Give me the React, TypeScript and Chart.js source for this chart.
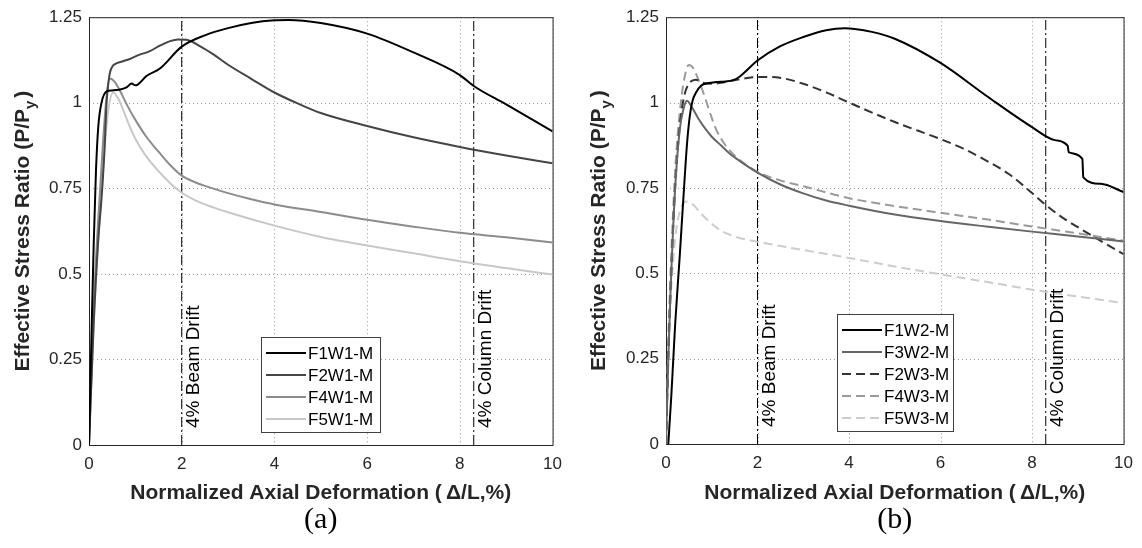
import React, { useEffect, useRef } from "react";
import { Chart, registerables } from "chart.js";

Chart.register(...registerables);

// ---------- axis ticks ----------
const xTickValues = [0, 2, 4, 6, 8, 10];
const xTickLabels = ["0", "2", "4", "6", "8", "10"];
const yTickValues = [0, 0.25, 0.5, 0.75, 1, 1.25];
const yTickLabels = ["0", "0.25", "0.5", "0.75", "1", "1.25"];

const xTitle = "Normalized Axial Deformation (\u2009\u0394/L,%)";
const yTitleMain = "Effective Stress Ratio (P/P";
const yTitleSub = "y";
const yTitleEnd = ")";

const beamDriftX = 2;
const columnDriftX = 8.3;
const beamDriftLabel = "4% Beam Drift";
const columnDriftLabel = "4% Column Drift";

// ---------- panel (a) ----------
const F1W1x = [0, 0.05, 0.1, 0.15, 0.2, 0.27, 0.38, 0.5, 0.65, 0.81, 0.92, 1.0, 1.05, 1.24, 1.53, 2.0, 2.5, 3.0, 3.5, 4.0, 4.3, 5.0, 6.0, 7.0, 8.0, 8.3, 9.0, 10.0];
const F1W1y = [0, 0.3, 0.58, 0.8, 0.93, 1.0, 1.033, 1.036, 1.038, 1.045, 1.056, 1.051, 1.053, 1.078, 1.1, 1.164, 1.197, 1.218, 1.233, 1.241, 1.242, 1.233, 1.202, 1.147, 1.081, 1.049, 0.995, 0.916];

const F2W1x = [0, 0.1, 0.2, 0.27, 0.33, 0.38, 0.44, 0.5, 0.56, 0.7, 0.88, 1.08, 1.3, 1.53, 1.75, 1.92, 2.1, 2.4, 2.7, 3.0, 3.5, 4.0, 4.5, 5.0, 6.0, 7.0, 8.0, 9.0, 10.0];
const F2W1y = [0, 0.35, 0.6, 0.72, 0.85, 1.0, 1.08, 1.105, 1.113, 1.12, 1.128, 1.14, 1.15, 1.167, 1.18, 1.185, 1.184, 1.165, 1.14, 1.111, 1.07, 1.03, 0.998, 0.97, 0.932, 0.899, 0.871, 0.846, 0.823];

const F4W1x = [0, 0.1, 0.2, 0.3, 0.38, 0.45, 0.55, 0.65, 0.81, 1.0, 1.24, 1.5, 1.75, 2.0, 2.25, 2.5, 3.0, 3.5, 4.0, 5.0, 6.0, 7.0, 8.0, 9.0, 10.0];
const F4W1y = [0, 0.4, 0.66, 0.88, 1.02, 1.071, 1.062, 1.04, 0.996, 0.95, 0.9, 0.857, 0.818, 0.787, 0.77, 0.757, 0.736, 0.718, 0.703, 0.681, 0.658, 0.638, 0.62, 0.607, 0.592];

const F5W1x = [0, 0.1, 0.2, 0.3, 0.4, 0.52, 0.62, 0.72, 0.85, 1.0, 1.2, 1.5, 1.75, 2.0, 2.25, 2.5, 3.0, 4.0, 5.0, 6.0, 7.0, 8.0, 9.0, 10.0];
const F5W1y = [0, 0.35, 0.6, 0.8, 0.96, 1.03, 1.015, 0.985, 0.94, 0.895, 0.85, 0.8, 0.765, 0.737, 0.718, 0.703, 0.68, 0.641, 0.608, 0.583, 0.56, 0.537, 0.517, 0.498];

// ---------- panel (b) ----------
const F1W2x = [0.05, 0.12, 0.2, 0.3, 0.38, 0.46, 0.52, 0.58, 0.66, 0.77, 0.93, 1.1, 1.3, 1.45, 1.6, 2.0, 2.5, 3.0, 3.5, 3.9, 4.5, 5.0, 6.0, 7.0, 8.0, 8.5, 8.78, 8.8, 9.1, 9.12, 9.5, 10.0];
const F1W2y = [0, 0.15, 0.35, 0.55, 0.72, 0.88, 0.96, 1.005, 1.03, 1.05, 1.057, 1.06, 1.062, 1.065, 1.075, 1.123, 1.165, 1.192, 1.212, 1.218, 1.207, 1.187, 1.116, 1.02, 0.928, 0.89, 0.873, 0.855, 0.835, 0.781, 0.762, 0.738];

const F3W2x = [0, 0.05, 0.1, 0.2, 0.3, 0.38, 0.46, 0.55, 0.7, 0.85, 1.0, 1.2, 1.39, 1.6, 2.0, 2.5, 3.0, 3.5, 4.0, 5.0, 6.0, 7.0, 8.0, 9.0, 10.0];
const F3W2y = [0, 0.25, 0.45, 0.75, 0.92, 0.98, 1.005, 0.99, 0.955, 0.925, 0.9, 0.875, 0.851, 0.83, 0.795, 0.76, 0.734, 0.713, 0.698, 0.672, 0.653, 0.637, 0.622, 0.608, 0.593];

const F2W3x = [0, 0.05, 0.1, 0.2, 0.3, 0.4, 0.5, 0.65, 0.8, 1.0, 1.2, 1.4, 1.7, 2.0, 2.3, 2.6, 3.0, 3.5, 4.0, 5.0, 6.0, 6.5, 7.0, 7.5, 8.0, 8.3, 8.7, 9.0, 9.5, 10.0];
const F2W3y = [0, 0.25, 0.45, 0.75, 0.93, 1.02, 1.055, 1.067, 1.058, 1.055, 1.058, 1.063, 1.07, 1.075, 1.075, 1.07, 1.055, 1.03, 1.0, 0.943, 0.893, 0.865, 0.83, 0.79, 0.735, 0.7, 0.66, 0.635, 0.595, 0.556];

const F4W3x = [0, 0.05, 0.1, 0.2, 0.3, 0.4, 0.5, 0.6, 0.7, 0.8, 0.9, 1.0, 1.1, 1.3, 1.5, 2.0, 2.5, 3.0, 4.0, 5.0, 6.0, 7.0, 8.0, 9.0, 10.0];
const F4W3y = [0, 0.3, 0.5, 0.8, 0.97, 1.07, 1.11, 1.1, 1.07, 1.035, 0.995, 0.955, 0.92, 0.875, 0.845, 0.797, 0.772, 0.755, 0.72, 0.697, 0.677, 0.658, 0.637, 0.617, 0.595];

const F5W3x = [0, 0.05, 0.1, 0.2, 0.3, 0.45, 0.6, 0.8, 1.0, 1.2, 1.5, 2.0, 2.5, 3.0, 4.0, 5.0, 6.0, 7.0, 8.0, 9.0, 10.0];
const F5W3y = [0, 0.25, 0.42, 0.6, 0.68, 0.71, 0.7, 0.67, 0.645, 0.625, 0.608, 0.592, 0.58, 0.568, 0.545, 0.52, 0.497, 0.475, 0.452, 0.432, 0.413];

const SANS = "'Liberation Sans', Arial, Helvetica, sans-serif";
const SERIF = "'Liberation Serif', 'Times New Roman', serif";
const AXIS_COLOR = "#262626";

function pts(xs: number[], ys: number[]) {
  return xs.map((x, i) => ({ x, y: ys[i] }));
}

function curve(label: string, xs: number[], ys: number[], color: string, dash: number[] = []) {
  return {
    label,
    data: pts(xs, ys),
    borderColor: color,
    backgroundColor: color,
    borderWidth: 2,
    borderDash: dash,
    pointRadius: 0,
    fill: false,
    cubicInterpolationMode: "monotone",
    legendItem: true,
  };
}

function refLine(xv: number, text: string) {
  return {
    label: text,
    data: [
      { x: xv, y: yTickValues[0] },
      { x: xv, y: yTickValues[yTickValues.length - 1] },
    ],
    borderColor: "#000000",
    borderWidth: 1,
    borderDash: [10, 3, 2, 3],
    pointRadius: 0,
    fill: false,
    refText: text,
  };
}

const decorPlugin = {
  id: "decor",
  beforeDatasetsDraw(chart: any) {
    const { ctx, chartArea: a } = chart;
    const xs = chart.scales.x;
    const ys = chart.scales.y;
    ctx.save();
    // dotted grid
    ctx.strokeStyle = "#9c9c9c";
    ctx.lineWidth = 1;
    ctx.setLineDash([1, 3]);
    xTickValues.forEach((v) => {
      const px = Math.round(xs.getPixelForValue(v)) + 0.5;
      ctx.beginPath();
      ctx.moveTo(px, a.top);
      ctx.lineTo(px, a.bottom);
      ctx.stroke();
    });
    yTickValues.forEach((v) => {
      const py = Math.round(ys.getPixelForValue(v)) + 0.5;
      ctx.beginPath();
      ctx.moveTo(a.left, py);
      ctx.lineTo(a.right, py);
      ctx.stroke();
    });
    // box
    ctx.strokeStyle = AXIS_COLOR;
    ctx.lineWidth = 1;
    ctx.setLineDash([]);
    ctx.strokeRect(a.left + 0.5, a.top + 0.5, a.right - a.left, a.bottom - a.top);
    ctx.restore();
  },
  afterDatasetsDraw(chart: any, _args: any, opts: any) {
    const { ctx, chartArea: a } = chart;
    const xs = chart.scales.x;
    ctx.save();
    // drift labels
    chart.data.datasets.forEach((d: any) => {
      if (!d.refText) return;
      const px = xs.getPixelForValue(d.data[0].x);
      ctx.save();
      ctx.translate(px + 17, a.bottom - 17);
      ctx.rotate(-Math.PI / 2);
      ctx.font = `19px ${SANS}`;
      ctx.fillStyle = "#000";
      ctx.textAlign = "left";
      ctx.textBaseline = "alphabetic";
      ctx.fillText(d.refText, 0, 0);
      ctx.restore();
    });
    // legend
    const items = chart.data.datasets.filter((d: any) => d.legendItem);
    const n = items.length;
    const boxW = opts.legendWidth;
    const boxH = n * 22 + 7;
    const cx = (a.left + a.right) / 2;
    const bx = Math.round(cx - boxW / 2);
    const by = Math.round(a.bottom - 13 - boxH);
    ctx.fillStyle = "#ffffff";
    ctx.fillRect(bx, by, boxW, boxH);
    ctx.strokeStyle = "#404040";
    ctx.lineWidth = 1;
    ctx.setLineDash([]);
    ctx.strokeRect(bx + 0.5, by + 0.5, boxW, boxH);
    items.forEach((d: any, i: number) => {
      const y = by + 16 + i * 22;
      ctx.beginPath();
      ctx.strokeStyle = d.borderColor;
      ctx.lineWidth = 2;
      ctx.setLineDash(d.borderDash || []);
      ctx.moveTo(bx + 5, y);
      ctx.lineTo(bx + 45, y);
      ctx.stroke();
      ctx.setLineDash([]);
      ctx.fillStyle = "#000";
      ctx.font = `17px ${SANS}`;
      ctx.textAlign = "left";
      ctx.textBaseline = "middle";
      ctx.fillText(d.label, bx + 47, y + 1);
    });
    ctx.restore();
  },
  afterDraw(chart: any, _args: any, opts: any) {
    const { ctx, chartArea: a } = chart;
    ctx.save();
    // x title
    ctx.fillStyle = AXIS_COLOR;
    ctx.font = `bold 21px ${SANS}`;
    ctx.textAlign = "center";
    ctx.textBaseline = "middle";
    ctx.fillText(xTitle, (a.left + a.right) / 2, opts.xTitleY);
    // y title with subscript
    const mainFont = `bold 21px ${SANS}`;
    const subFont = `bold 15px ${SANS}`;
    ctx.font = mainFont;
    const w1 = ctx.measureText(yTitleMain).width;
    const w3 = ctx.measureText(yTitleEnd).width;
    ctx.font = subFont;
    const w2 = ctx.measureText(yTitleSub).width;
    const total = w1 + w2 + 3 + w3;
    ctx.translate(opts.yTitleX, (a.top + a.bottom) / 2);
    ctx.rotate(-Math.PI / 2);
    ctx.textAlign = "left";
    ctx.textBaseline = "alphabetic";
    let x0 = -total / 2;
    ctx.font = mainFont;
    ctx.fillText(yTitleMain, x0, 0);
    x0 += w1;
    ctx.font = subFont;
    ctx.fillText(yTitleSub, x0, 6);
    x0 += w2 + 3;
    ctx.font = mainFont;
    ctx.fillText(yTitleEnd, x0, 0);
    ctx.restore();
    // caption
    ctx.save();
    ctx.fillStyle = "#000";
    ctx.font = `30px ${SERIF}`;
    ctx.textAlign = "center";
    ctx.textBaseline = "middle";
    ctx.fillText(opts.caption, (a.left + a.right) / 2, opts.captionY);
    ctx.restore();
  },
};

type PanelProps = {
  datasets: any[];
  yAxisWidth: number;
  xAxisHeight: number;
  padRight: number;
  legendWidth: number;
  yTitleX: number;
  caption: string;
};

function Panel(props: PanelProps) {
  const ref = useRef<HTMLCanvasElement | null>(null);
  useEffect(() => {
    if (!ref.current) return;
    const chart = new Chart(ref.current, {
      type: "line",
      data: { datasets: props.datasets },
      plugins: [decorPlugin],
      options: {
        responsive: false,
        animation: false,
        events: [],
        layout: { padding: { left: 0, right: props.padRight, top: 12, bottom: 0 } },
        plugins: {
          legend: { display: false },
          tooltip: { enabled: false },
          decor: {
            legendWidth: props.legendWidth,
            yTitleX: props.yTitleX,
            xTitleY: 493,
            caption: props.caption,
            captionY: 520,
          },
        } as any,
        scales: {
          x: {
            type: "linear",
            min: xTickValues[0],
            max: xTickValues[xTickValues.length - 1],
            afterBuildTicks: (s: any) => {
              s.ticks = xTickValues.map((v) => ({ value: v }));
            },
            afterFit: (s: any) => {
              s.height = props.xAxisHeight;
            },
            ticks: {
              autoSkip: false,
              maxRotation: 0,
              padding: 9,
              color: AXIS_COLOR,
              font: { family: SANS, size: 17 },
              callback: (_v: any, i: number) => xTickLabels[i],
            },
            grid: { display: false, drawTicks: false },
            border: { display: false },
          },
          y: {
            type: "linear",
            min: yTickValues[0],
            max: yTickValues[yTickValues.length - 1],
            afterBuildTicks: (s: any) => {
              s.ticks = yTickValues.map((v) => ({ value: v }));
            },
            afterFit: (s: any) => {
              s.width = props.yAxisWidth;
            },
            ticks: {
              autoSkip: false,
              padding: 7,
              color: AXIS_COLOR,
              font: { family: SANS, size: 17 },
              callback: (_v: any, i: number) => yTickLabels[i],
            },
            grid: { display: false, drawTicks: false },
            border: { display: false },
          },
        },
      } as any,
    });
    return () => chart.destroy();
  }, []);
  return <canvas ref={ref} width={571} height={548} style={{ display: "block" }} />;
}

const leftDatasets = [
  curve("F1W1-M", F1W1x, F1W1y, "#000000"),
  curve("F2W1-M", F2W1x, F2W1y, "#454545"),
  curve("F4W1-M", F4W1x, F4W1y, "#8c8c8c"),
  curve("F5W1-M", F5W1x, F5W1y, "#c8c8c8"),
  refLine(beamDriftX, beamDriftLabel),
  refLine(columnDriftX, columnDriftLabel),
];

const rightDatasets = [
  curve("F1W2-M", F1W2x, F1W2y, "#000000"),
  curve("F3W2-M", F3W2x, F3W2y, "#666666"),
  curve("F2W3-M", F2W3x, F2W3y, "#333333", [9, 5]),
  curve("F4W3-M", F4W3x, F4W3y, "#9a9a9a", [9, 5]),
  curve("F5W3-M", F5W3x, F5W3y, "#cccccc", [9, 5]),
  refLine(beamDriftX, beamDriftLabel),
  refLine(columnDriftX, columnDriftLabel),
];

export default function App() {
  return (
    <div style={{ position: "fixed", left: 0, top: 0, width: 1142, height: 548, background: "#fff", display: "flex" }}>
      <Panel datasets={leftDatasets} yAxisWidth={89} xAxisHeight={103} padRight={17} legendWidth={119} yTitleX={29} caption="(a)" />
      <Panel datasets={rightDatasets} yAxisWidth={95} xAxisHeight={104} padRight={14} legendWidth={116} yTitleX={34} caption="(b)" />
    </div>
  );
}
